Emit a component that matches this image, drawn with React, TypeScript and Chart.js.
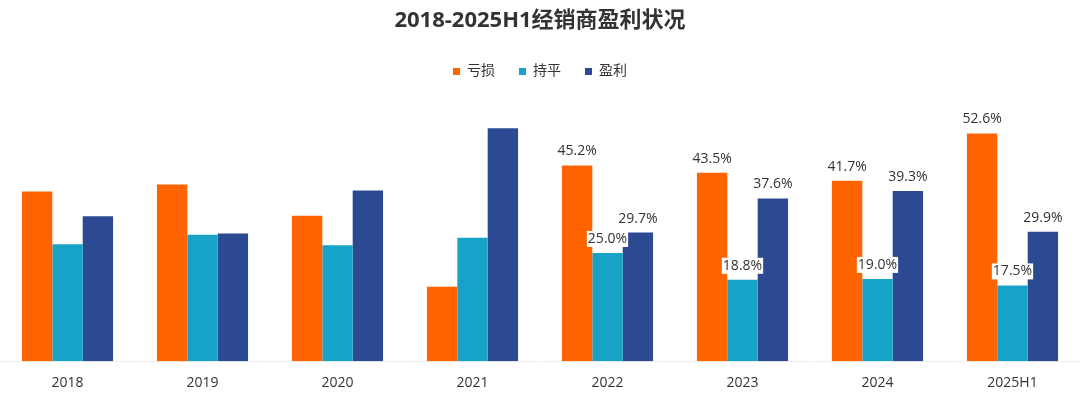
import React, { useEffect, useRef } from "react";
import { Chart, registerables } from "chart.js";

Chart.register(...registerables);

const categories = ["2018", "2019", "2020", "2021", "2022", "2023", "2024", "2025H1"];
const lossValues = [39.2, 40.8, 33.6, 17.2, 45.2, 43.5, 41.7, 52.6];
const flatValues = [27.0, 29.2, 26.8, 28.5, 25.0, 18.8, 19.0, 17.5];
const profitValues = [33.5, 29.5, 39.4, 53.8, 29.7, 37.6, 39.3, 29.9];
const labeledCategories = ["2022", "2023", "2024", "2025H1"];
const seriesNames = ["亏损", "持平", "盈利"];
const titleText = "2018-2025H1经销商盈利状况";

const FONT = "'Open Sans', 'Noto Sans CJK SC', sans-serif";

const valueLabelPlugin = {
  id: "valueLabels",
  afterDatasetsDraw(chart: any) {
    const ctx = chart.ctx;
    ctx.save();
    ctx.font = `14px ${FONT}`;
    ctx.textAlign = "center";
    ctx.textBaseline = "middle";
    chart.data.datasets.forEach((ds: any, di: number) => {
      const meta = chart.getDatasetMeta(di);
      meta.data.forEach((bar: any, i: number) => {
        if (!labeledCategories.includes(chart.data.labels[i])) return;
        const text = ds.data[i].toFixed(1) + "%";
        const w = ctx.measureText(text).width;
        const cy = bar.y - 14;
        ctx.fillStyle = "#ffffff";
        ctx.fillRect(bar.x - w / 2 - 1, cy - 8, w + 2, 16);
        ctx.fillStyle = "#333333";
        ctx.fillText(text, bar.x, cy);
      });
    });
    ctx.restore();
  },
};

export default function App() {
  const ref = useRef<HTMLCanvasElement | null>(null);
  useEffect(() => {
    if (!ref.current) return;
    const chart = new Chart(ref.current, {
      type: "bar",
      data: {
        labels: categories,
        datasets: [
          { label: seriesNames[0], data: lossValues, backgroundColor: "#FF6400" },
          { label: seriesNames[1], data: flatValues, backgroundColor: "#17A3C8" },
          { label: seriesNames[2], data: profitValues, backgroundColor: "#2B4A92" },
        ],
      },
      options: {
        responsive: false,
        animation: false,
        layout: { padding: { left: 0, right: 0, top: 0, bottom: 2 } },
        datasets: {
          bar: { categoryPercentage: 0.675, barPercentage: 1.0 },
        },
        plugins: {
          title: {
            display: true,
            text: titleText,
            color: "#333333",
            font: { family: FONT, size: 22, weight: "bold", lineHeight: 1.2 },
            padding: { top: 8, bottom: 6 },
          },
          legend: {
            display: true,
            position: "top",
            labels: {
              boxWidth: 7,
              boxHeight: 7,
              padding: 24,
              color: "#333333",
              font: { family: FONT, size: 14 },
            },
          },
          tooltip: { enabled: false },
        },
        scales: {
          x: {
            offset: true,
            grid: { display: false, drawTicks: false },
            border: { display: true, color: "#eeeeee" },
            ticks: {
              padding: 13,
              color: "#333333",
              font: { family: FONT, size: 14 },
            },
          },
          y: {
            display: false,
            min: 0,
            max: 63,
          },
        },
      },
      plugins: [valueLabelPlugin],
    });
    return () => chart.destroy();
  }, []);
  return (
    <div
      style={{
        position: "absolute",
        left: 0,
        top: 0,
        width: 1080,
        height: 393,
        overflow: "hidden",
        background: "#fff",
      }}
    >
      <canvas ref={ref} width={1080} height={406} />
    </div>
  );
}
